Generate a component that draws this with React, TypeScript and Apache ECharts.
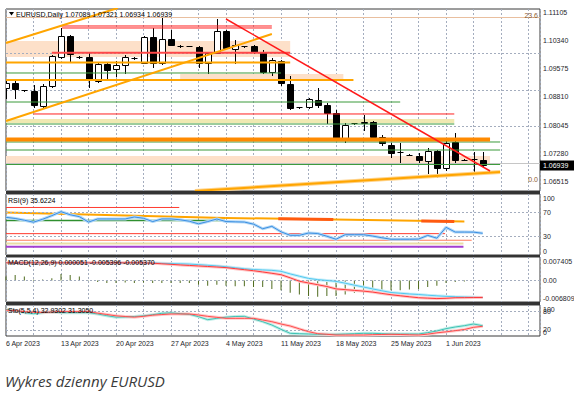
import React, { useEffect, useRef } from 'react';
import * as echarts from 'echarts';

// ---------- data ----------
const symbolName = 'EURUSD';
const timeframe = 'Daily';
const dateLabels = ['6 Apr 2023', '13 Apr 2023', '20 Apr 2023', '27 Apr 2023', '4 May 2023', '11 May 2023', '18 May 2023', '25 May 2023', '1 Jun 2023'];
const barsPerLabel = 6;

const opens = [1.09056, 1.09193, 1.09001, 1.08974, 1.08564, 1.09111, 1.09903, 1.10477, 1.09910, 1.09903, 1.09247, 1.09712, 1.09575, 1.09684, 1.09880, 1.09739, 1.10449, 1.09739, 1.10395, 1.10210, 1.10203, 1.10176, 1.09739, 1.10012, 1.10613, 1.10121, 1.10203, 1.10203, 1.10039, 1.09493, 1.09794, 1.09165, 1.08537, 1.08537, 1.08728, 1.08592, 1.08373, 1.07663, 1.08100, 1.08110, 1.08127, 1.07717, 1.07499, 1.07307, 1.07230, 1.07198, 1.07061, 1.07335, 1.06870, 1.07581, 1.07100, 1.07116, 1.07089];
const closes = [1.09193, 1.09029, 1.08990, 1.08592, 1.09111, 1.09930, 1.10477, 1.09985, 1.09895, 1.09302, 1.09712, 1.09548, 1.09684, 1.09903, 1.09870, 1.10449, 1.09739, 1.10395, 1.10231, 1.10200, 1.10195, 1.09739, 1.10012, 1.10613, 1.10149, 1.10231, 1.10195, 1.10039, 1.09493, 1.09821, 1.09193, 1.08510, 1.08530, 1.08755, 1.08592, 1.08373, 1.07663, 1.08045, 1.08090, 1.08127, 1.07717, 1.07553, 1.07280, 1.07300, 1.07225, 1.07089, 1.07335, 1.06870, 1.07553, 1.07089, 1.07090, 1.07110, 1.06939];
const lows = [1.08783, 1.08783, 1.08974, 1.08537, 1.08537, 1.09083, 1.09876, 1.09766, 1.09880, 1.09083, 1.09220, 1.09274, 1.09384, 1.09466, 1.09860, 1.09730, 1.09630, 1.09725, 1.10220, 1.10180, 1.10190, 1.09630, 1.09466, 1.10000, 1.10140, 1.09739, 1.10180, 1.10012, 1.09466, 1.09411, 1.09138, 1.08482, 1.08520, 1.08510, 1.08537, 1.08100, 1.07635, 1.07581, 1.08080, 1.07908, 1.07663, 1.07499, 1.07171, 1.07034, 1.07215, 1.07034, 1.06734, 1.06624, 1.06815, 1.07034, 1.07080, 1.06734, 1.06934];
const highs = [1.09247, 1.09274, 1.09010, 1.09138, 1.09165, 1.09958, 1.10695, 1.10504, 1.09920, 1.10012, 1.09766, 1.09766, 1.09794, 1.09958, 1.09890, 1.10477, 1.10695, 1.10968, 1.10641, 1.10220, 1.10210, 1.10203, 1.10039, 1.10941, 1.10641, 1.10367, 1.10215, 1.10231, 1.10094, 1.09876, 1.09821, 1.09384, 1.08545, 1.08783, 1.09056, 1.08646, 1.08455, 1.08100, 1.08110, 1.08320, 1.08155, 1.07772, 1.07553, 1.07553, 1.07240, 1.07280, 1.07417, 1.07362, 1.07635, 1.07827, 1.07110, 1.07307, 1.07321];

const priceTicks = [1.11105, 1.10340, 1.09575, 1.08810, 1.08045, 1.07280, 1.06515];
const priceTickLabels = ['1.11105', '1.10340', '1.09575', '1.08810', '1.08045', '1.07280', '1.06515'];
const lastPrice = 1.06939;
const lastPriceLabel = '1.06939';

const fibLevels = [1.10927, 1.06433];
const fibLabels = ['23.6', '0.0'];

// [price, fromBar, toBar]
const redLevels = [[1.10750, 6.1, 29], [1.10695, 6.1, 29], [1.08346, 3, 48.9]];
const redWideLevels = [[1.10020, 5, 31]];
const orangeLevels = [[1.09753, 0, 31], [1.09274, 0, 37.9]];
const darkOrangeLevels = [[1.07649, 0, 52.8]];
const greenLevels = [[1.09466, 0, 30], [1.08673, 0, 43], [1.08072, 0, 48.9], [1.07581, 0, 53.9], [1.07362, 0, 53.9], [1.06966, 0, 53.9]];
// [priceTop, priceBottom, fromBar, toBar]
const peachZones = [[1.10340, 1.09903, 0, 31], [1.09438, 1.09302, 19, 36.8], [1.07198, 1.07007, 0, 52.8]];
const khakiZones = [[1.08209, 1.08100, 0, 48.9]];
// [fromBar, fromPrice, toBar, toPrice]
const orangeTrends = [[0, 1.10285, 12.2, 1.11241], [0, 1.08154, 29, 1.10531], [20.6, 1.06242, 53.9, 1.06761]];
const redTrends = [[24, 1.10941, 52.8, 1.06788]];

// RSI
const rsiTitle = 'RSI(9) 35.6224';
const rsiValues = [61.8, 59.9, 57, 53.8, 58.6, 64.5, 71, 66, 62.9, 54, 59.1, 59.1, 59.1, 59.1, 62.3, 60.2, 54.8, 59.1, 59.1, 57.7, 55.4, 51.1, 54.8, 59, 54.8, 54.4, 54, 50.6, 43, 47, 38, 32.3, 32.3, 36, 35.2, 30.8, 25.8, 33.3, 33.3, 33.3, 31, 28.3, 25.8, 25.8, 25.8, 26.1, 32.1, 27.6, 45.4, 37.6, 37.6, 37.5, 35.6];
const rsiTicks = [100, 70, 30, 0];
const rsiTickLabels = ['100', '70', '30', '0'];
const rsiGridLevels = [70, 30];
const rsiRedLevels = [[77.9, 0, 18.9], [35, 0, 47.9]];
const rsiGreenLevels = [[56.5, 0, 23.9]];
const rsiSalmonLevels = [[24.2, 0, 50.8]];
const rsiKhakiLevels = [[18.9, 0, 49.9]];
const rsiPurpleLevels = [[13.4, 0, 49.9]];
const rsiOrangeTrends = [[0, 69.8, 23.9, 60.8], [23.9, 60.8, 50, 54.8]];
const rsiRedOrangeMarks = [[29.7, 59.5, 35.7, 58.1], [45.3, 55.9, 48.9, 55.1]];

// MACD
const macdTitle = 'MACD(12,26,9) 0.000051 -0.005396 -0.005370';
const macdHist = [0.00124, 0.00175, 0.00124, 0.0002, 0.0003, 0.00072, 0.00206, 0.00175, 0.00124, 0.0001, -0.00052, -0.00082, -0.00082, -0.00062, -0.00082, -0.00062, -0.00082, -0.00082, -0.00082, -0.00082, -0.00082, -0.00134, -0.00165, -0.00134, -0.00165, -0.00185, -0.00185, -0.00206, -0.00206, -0.00268, -0.00309, -0.00391, -0.00443, -0.00494, -0.00515, -0.00494, -0.00494, -0.00443, -0.00391, -0.00391, -0.00371, -0.0034, -0.00309, -0.00309, -0.00288, -0.00268, -0.00206, -0.00165, -0.00082, -0.00052, -0.00031, 0.00003, 0.000051];
const macdMain = [0.00556, 0.00556, 0.00556, 0.00556, 0.00556, 0.00556, 0.00556, 0.00556, 0.00556, 0.00556, 0.00556, 0.00556, 0.00556, 0.00556, 0.00556, 0.00556, 0.00551, 0.00542, 0.00533, 0.00525, 0.00516, 0.00499, 0.00479, 0.0046, 0.00433, 0.004, 0.00369, 0.00344, 0.00332, 0.00319, 0.00288, 0.00206, 0.00134, 0.00065, 0.00025, -0.00001, -0.00029, -0.00087, -0.00149, -0.00208, -0.00268, -0.00326, -0.00381, -0.00404, -0.00427, -0.00444, -0.00466, -0.00486, -0.00503, -0.00515, -0.00523, -0.00531, -0.005396];
const macdSignal = [0.00556, 0.00556, 0.00556, 0.00556, 0.00556, 0.00556, 0.00556, 0.00556, 0.00556, 0.00556, 0.00556, 0.00556, 0.00556, 0.00556, 0.00556, 0.00556, 0.00545, 0.00526, 0.00509, 0.0049, 0.00474, 0.00457, 0.00441, 0.00424, 0.00405, 0.00372, 0.0034, 0.00307, 0.00268, 0.00226, 0.00182, 0.00083, -0.00024, -0.0008, -0.00135, -0.00191, -0.00267, -0.00291, -0.00314, -0.00337, -0.00368, -0.0041, -0.00451, -0.00484, -0.00516, -0.00546, -0.00559, -0.00573, -0.00564, -0.00546, -0.00543, -0.0054, -0.00537];
const macdTicks = [0.007405, 0, -0.006809];
const macdTickLabels = ['0.007405', '0.00', '-0.006809'];
const macdGridLevels = [0];

// Stochastic
const stochTitle = 'Sto(5,5,4) 32.9302 31.3050';
const stochMain = [86, 81.7, 75.3, 72, 75.3, 77.4, 75.3, 75.3, 75.3, 75.3, 71, 65.6, 60.8, 61.3, 62.9, 65.1, 68.8, 73.2, 74.7, 72, 69.9, 62.4, 52.7, 57, 60.8, 62.9, 63.4, 54.8, 46.2, 35.5, 21.5, 8.6, 7.5, 6.5, 5.4, 5.4, 5.4, 6.5, 7.5, 8.6, 8.6, 7.5, 6.5, 6.5, 6.5, 6.5, 10.8, 16.1, 23.7, 29, 33.3, 38.7, 32.93];
const stochSignal = [83.9, 81.7, 78.5, 76.3, 76.3, 77.4, 78.5, 78.5, 78.5, 78.5, 73.7, 69.4, 65.1, 62.9, 60.8, 63.4, 67.2, 69.2, 71, 71, 71, 67.7, 63.4, 60.2, 57, 57, 57, 57, 51.6, 46.2, 38.7, 32.3, 23.1, 14, 7.5, 5.4, 3.2, 3.2, 3.2, 3.2, 4.3, 4.8, 5.4, 4.8, 3.9, 3.2, 6, 10.2, 13.4, 17.2, 21, 28, 31.31];
const stochTicks = [100, 80, 20, 0];
const stochTickLabels = ['100', '80', '20', '0'];
const stochGridLevels = [80, 20];

const caption = 'Wykres dzienny EURUSD';

// ---------- styling ----------
const FONT = "'Liberation Sans', Arial, sans-serif";
const TXT = '#1e1e2a';
const GRID_COLOR = '#a4adbe';
const X_MIN = 0;
const X_MAX = 58.25;

export default function App() {
  const ref = useRef<HTMLDivElement>(null);

  useEffect(() => {
    const el = ref.current;
    if (!el) return;
    const chart = echarts.init(el, null, { renderer: 'svg' });

    const n = opens.length;
    const candles = opens.map((o, i) => [i, o, closes[i], lows[i], highs[i]]);

    const seg = (xi: number, pts: number[][], color: string, width: number, z: number) => ({
      type: 'line',
      xAxisIndex: xi,
      yAxisIndex: xi,
      data: pts,
      symbol: 'none',
      showSymbol: false,
      silent: true,
      clip: true,
      z,
      lineStyle: { color, width },
      animation: false,
    });
    const levelSeries = (xi: number, levels: number[][], color: string, width: number, z: number) =>
      levels.map(([p, a, b]) => seg(xi, [[a, p], [b, p]], color, width, z));
    const trendSeries = (xi: number, trends: number[][], color: string, width: number, z: number) =>
      trends.map(([a, p1, b, p2]) => seg(xi, [[a, p1], [b, p2]], color, width, z));

    const xAxisFor = (gi: number, showLabels: boolean) => ({
      type: 'value',
      gridIndex: gi,
      min: X_MIN,
      max: X_MAX,
      interval: 3,
      axisLine: { show: false },
      axisTick: { show: false },
      splitLine: { show: true, lineStyle: { color: GRID_COLOR, type: [2, 2], width: 1 } },
      axisLabel: showLabels
        ? {
            show: true,
            align: 'left',
            margin: 4,
            fontSize: 7,
            fontFamily: FONT,
            color: TXT,
            formatter: (v: number) => {
              const k = Math.round(v);
              if (k % barsPerLabel !== 0) return '';
              return dateLabels[k / barsPerLabel] ?? '';
            },
          }
        : { show: false },
    });
    const yAxisFor = (gi: number, min: number, max: number) => ({
      type: 'value',
      gridIndex: gi,
      min,
      max,
      position: 'right',
      axisLine: { show: false },
      axisTick: { show: false },
      axisLabel: { show: false },
      splitLine: { show: false },
    });

    const hostSeries = (xi: number, y: number, markLineData: any[], extra: any = {}) => ({
      type: 'line',
      xAxisIndex: xi,
      yAxisIndex: xi,
      data: [[X_MIN, y], [X_MIN, y]],
      symbol: 'none',
      lineStyle: { width: 0, color: 'transparent' },
      silent: true,
      clip: false,
      z: 1,
      markLine: {
        silent: true,
        symbol: ['none', 'none'],
        animation: false,
        label: { show: false },
        lineStyle: { color: GRID_COLOR, type: [2, 2], width: 1 },
        data: markLineData,
      },
      ...extra,
    });

    const mainMarks = [
      ...priceTicks.map((v) => ({ yAxis: v })),
      ...fibLevels.map((v) => ({ yAxis: v, lineStyle: { color: '#e9bf9f', type: 'solid', width: 1 } })),
      { yAxis: lastPrice, lineStyle: { color: '#c6c6c6', type: 'solid', width: 1 } },
    ];

    const zoneArea = (zones: number[][], color: string) =>
      zones.map(([p1, p2, a, b]) => [{ coord: [a, p1], itemStyle: { color } }, { coord: [b, p2] }]);

    const idx = (arr: number[]) => arr.map((v, i) => [i, v]);

    const option: any = {
      animation: false,
      backgroundColor: '#fff',
      grid: [
        { left: 6, top: 9, width: 534, height: 182, show: true, borderColor: '#3a3a3a', borderWidth: 1, backgroundColor: '#fff' },
        { left: 6, top: 194, width: 534, height: 61, show: true, borderColor: '#3a3a3a', borderWidth: 1 },
        { left: 6, top: 257, width: 534, height: 45, show: true, borderColor: '#3a3a3a', borderWidth: 1 },
        { left: 6, top: 305, width: 534, height: 31, show: true, borderColor: '#3a3a3a', borderWidth: 1 },
      ],
      xAxis: [xAxisFor(0, false), xAxisFor(1, false), xAxisFor(2, false), xAxisFor(3, true)],
      yAxis: [yAxisFor(0, 1.06242, 1.11214), yAxisFor(1, 0, 100), yAxisFor(2, -0.006809, 0.007405), yAxisFor(3, 0, 100)],
      series: [
        hostSeries(0, priceTicks[0], mainMarks, {
          markArea: {
            silent: true,
            data: [...zoneArea(peachZones, '#fde0c9'), ...zoneArea(khakiZones, '#f0e9b2')],
          },
        }),
        {
          type: 'custom',
          xAxisIndex: 0,
          yAxisIndex: 0,
          data: candles,
          encode: { x: 0, y: [1, 2, 3, 4] },
          clip: true,
          silent: true,
          z: 5,
          renderItem: (params: any, api: any) => {
            const i = api.value(0);
            const o = api.value(1);
            const c = api.value(2);
            const lo = api.value(3);
            const hi = api.value(4);
            const po = api.coord([i, o]);
            const pc = api.coord([i, c]);
            const pl = api.coord([i, lo]);
            const ph = api.coord([i, hi]);
            const x = Math.round(po[0]) + 0.5;
            const top = Math.round(Math.min(po[1], pc[1])) + 0.5;
            const bot = Math.round(Math.max(po[1], pc[1])) + 0.5;
            const bull = c >= o;
            const children: any[] = [
              { type: 'line', shape: { x1: x, y1: Math.round(ph[1]), x2: x, y2: Math.round(pl[1]) + 1 }, style: { stroke: '#000', lineWidth: 1 } },
            ];
            if (bot - top < 1) {
              children.push({ type: 'line', shape: { x1: x - 3, y1: top, x2: x + 3, y2: top }, style: { stroke: '#000', lineWidth: 1 } });
            } else {
              children.push({
                type: 'rect',
                shape: { x: x - 3, y: top, width: 6, height: bot - top },
                style: { fill: bull ? '#fff' : '#000', stroke: '#000', lineWidth: 1 },
              });
            }
            return { type: 'group', children };
          },
        },
        ...levelSeries(0, greenLevels, '#3b9a3b', 1, 6),
        ...levelSeries(0, orangeLevels, '#ffa500', 2, 6),
        ...levelSeries(0, darkOrangeLevels, '#ff8a00', 4, 6),
        ...levelSeries(0, redLevels, '#ff2020', 1, 6),
        ...levelSeries(0, redWideLevels, '#ff4848', 2, 6),
        ...trendSeries(0, orangeTrends.slice(2), '#ffd38a', 4, 6),
        ...trendSeries(0, orangeTrends, '#ffa500', 2, 7),
        ...trendSeries(0, redTrends, '#ff1a1a', 1.5, 7),

        hostSeries(1, 50, rsiGridLevels.map((v) => ({ yAxis: v }))),
        ...levelSeries(1, rsiRedLevels, '#ff3b2f', 1, 3),
        ...levelSeries(1, rsiGreenLevels, '#2f8f2f', 1.5, 3),
        ...levelSeries(1, rsiSalmonLevels, '#ff7a5a', 1, 3),
        ...levelSeries(1, rsiKhakiLevels, '#e9dca6', 2, 3),
        ...levelSeries(1, rsiPurpleLevels, '#a33fd0', 2, 3),
        ...trendSeries(1, rsiOrangeTrends, '#ffa500', 2, 3),
        ...trendSeries(1, rsiRedOrangeMarks, '#ff5a10', 3, 4),
        seg(1, idx(rsiValues), '#b4d8f6', 3, 5),
        seg(1, idx(rsiValues), '#3a8fe2', 1, 6),

        hostSeries(2, 0, macdGridLevels.map((v) => ({ yAxis: v }))),
        {
          type: 'bar',
          xAxisIndex: 2,
          yAxisIndex: 2,
          data: idx(macdHist),
          barWidth: 1,
          silent: true,
          itemStyle: { color: '#4f6b1e' },
          z: 3,
        },
        seg(2, idx(macdMain), '#c6eefa', 3, 4),
        seg(2, idx(macdSignal), '#ffc6c6', 3, 4),
        seg(2, idx(macdMain), '#52c8ef', 1, 5),
        seg(2, idx(macdSignal), '#ff3a3a', 1, 5),

        hostSeries(3, 50, stochGridLevels.map((v) => ({ yAxis: v }))),
        seg(3, idx(stochMain), '#bfeee8', 3, 4),
        seg(3, idx(stochSignal), '#ffcaca', 3, 4),
        seg(3, idx(stochMain), '#3fc2b4', 1, 5),
        seg(3, idx(stochSignal), '#ff4d4d', 1, 5),
      ],
    };

    chart.setOption(option);

    // right-hand scale labels, placed through the library's own axes
    const axisX = (chart.convertToPixel({ xAxisIndex: 0 }, X_MAX) as number) + 3;
    const yPix = (yi: number, v: number) => chart.convertToPixel({ yAxisIndex: yi }, v) as number;
    const labelText = (x: number, y: number, text: string, va: string, extra: any = {}) => ({
      type: 'text',
      x,
      y,
      z: 100,
      silent: true,
      style: { text, font: `7px ${FONT}`, fill: TXT, verticalAlign: va, ...extra },
    });
    const scaleLabels = (yi: number, ticks: number[], labels: string[]) =>
      ticks.map((v, k) => {
        const y = yPix(yi, v);
        const va = k === 0 && yi > 0 ? 'top' : k === ticks.length - 1 && yi > 0 ? 'bottom' : 'middle';
        return labelText(axisX, y + (va === 'top' ? 1 : va === 'bottom' ? -0.5 : 0), labels[k], va);
      });

    const yLast = yPix(0, lastPrice);
    const fibRightX = axisX - 5;

    chart.setOption({
      graphic: [
        { type: 'rect', shape: { x: 6, y: 191, width: 534, height: 3 }, style: { fill: '#333' }, z: 100, silent: true },
        { type: 'rect', shape: { x: 6, y: 255, width: 534, height: 2 }, style: { fill: '#333' }, z: 100, silent: true },
        { type: 'rect', shape: { x: 6, y: 302, width: 534, height: 3 }, style: { fill: '#333' }, z: 100, silent: true },
        ...scaleLabels(0, priceTicks, priceTickLabels),
        ...scaleLabels(1, rsiTicks, rsiTickLabels),
        ...scaleLabels(2, macdTicks, macdTickLabels),
        ...scaleLabels(3, stochTicks, stochTickLabels),
        { type: 'rect', shape: { x: axisX - 3, y: yLast - 5, width: 34, height: 10 }, style: { fill: '#000' }, z: 100, silent: true },
        labelText(axisX, yLast, lastPriceLabel, 'middle', { fill: '#fff' }),
        ...fibLevels.map((v, k) =>
          labelText(fibRightX, yPix(0, v) - 1, fibLabels[k], 'bottom', { fill: '#8a5a30', align: 'right' })
        ),
        { type: 'polygon', shape: { points: [[9, 12], [14, 12], [11.5, 15.5]] }, style: { fill: '#000' }, z: 100, silent: true },
        labelText(
          16,
          14,
          `${symbolName},${timeframe} ${opens[n - 1].toFixed(5)} ${highs[n - 1].toFixed(5)} ${lows[n - 1].toFixed(5)} ${closes[n - 1].toFixed(5)}`,
          'middle',
          { fill: '#000' }
        ),
        labelText(8, 200, rsiTitle, 'middle', { fill: '#000' }),
        labelText(8, 262, macdTitle, 'middle', { fill: '#000' }),
        labelText(8, 310, stochTitle, 'middle', { fill: '#000' }),
        {
          type: 'text',
          x: 5,
          y: 381,
          z: 100,
          silent: true,
          style: { text: caption, font: `italic 15px 'Open Sans', sans-serif`, fill: '#3a3a3a', verticalAlign: 'middle' },
        },
      ],
    });

    return () => chart.dispose();
  }, []);

  return <div ref={ref} style={{ position: 'absolute', left: 0, top: 0, width: 574, height: 394, background: '#fff' }} />;
}
